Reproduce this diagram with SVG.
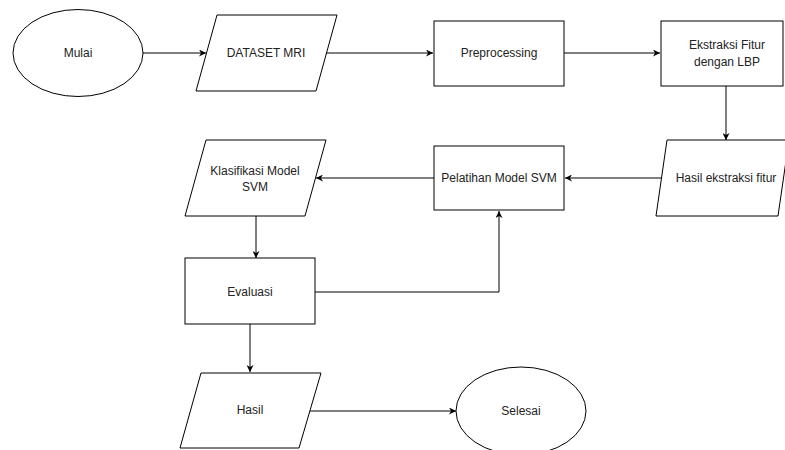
<svg xmlns="http://www.w3.org/2000/svg" width="785" height="450" viewBox="0 0 785 450">
<style>
.s{fill:#fff;stroke:#000;stroke-width:1}
.t{font-family:"Liberation Sans",Arial,sans-serif;font-size:12px;fill:#222;text-anchor:middle;dominant-baseline:central}
.c{fill:none;stroke:#000;stroke-width:1}
</style>
<defs>
<marker id="a" viewBox="0 0 10 10" refX="10" refY="5" markerWidth="7" markerHeight="7" markerUnits="userSpaceOnUse" orient="auto">
<path d="M0,0 L10,5 L0,10 L3,5 Z" fill="#000"/>
</marker>
</defs>
<rect width="785" height="450" fill="#fff"/>
<g id="connectors">
<path class="c" d="M143,53 H206" marker-end="url(#a)"/>
<path class="c" d="M326,53 H433" marker-end="url(#a)"/>
<path class="c" d="M564,53 H660" marker-end="url(#a)"/>
<path class="c" d="M726,86 V140" marker-end="url(#a)"/>
<path class="c" d="M661,178 H565" marker-end="url(#a)"/>
<path class="c" d="M434,178 H316" marker-end="url(#a)"/>
<path class="c" d="M256,216 V258" marker-end="url(#a)"/>
<path class="c" d="M315,292 H499 V211" marker-end="url(#a)"/>
<path class="c" d="M250,324 V372" marker-end="url(#a)"/>
<path class="c" d="M310,411 H456" marker-end="url(#a)"/>
</g>
<g id="mulai">
<ellipse class="s" cx="78" cy="53" rx="65" ry="43.5"/>
<text class="t" x="78" y="53">Mulai</text>
</g>
<g id="dataset">
<polygon class="s" points="217,15 337,15 316,91 196,91"/>
<text class="t" x="266" y="53">DATASET MRI</text>
</g>
<g id="preprocessing">
<rect class="s" x="434" y="21" width="130" height="65"/>
<text class="t" x="499" y="53">Preprocessing</text>
</g>
<g id="ekstraksi">
<rect class="s" x="661" y="21" width="122" height="65"/>
<text class="t" x="727" y="45">Ekstraksi Fitur</text>
<text class="t" x="727" y="62">dengan LBP</text>
</g>
<g id="hasil-ekstraksi">
<polygon class="s" points="667,140 789,140 778,216 656,216"/>
<text class="t" x="726" y="178">Hasil ekstraksi fitur</text>
</g>
<g id="pelatihan">
<rect class="s" x="434" y="146" width="130" height="64"/>
<text class="t" x="499" y="178">Pelatihan Model SVM</text>
</g>
<g id="klasifikasi">
<polygon class="s" points="206,140 326,140 305,216 185,216"/>
<text class="t" x="255" y="171">Klasifikasi Model</text>
<text class="t" x="255" y="187">SVM</text>
</g>
<g id="evaluasi">
<rect class="s" x="185" y="258" width="130" height="66"/>
<text class="t" x="250" y="292">Evaluasi</text>
</g>
<g id="hasil">
<polygon class="s" points="201,373 321,373 299,448 180,448"/>
<text class="t" x="250" y="410">Hasil</text>
</g>
<g id="selesai">
<ellipse class="s" cx="521" cy="411" rx="65" ry="44"/>
<text class="t" x="521" y="411">Selesai</text>
</g>
</svg>
